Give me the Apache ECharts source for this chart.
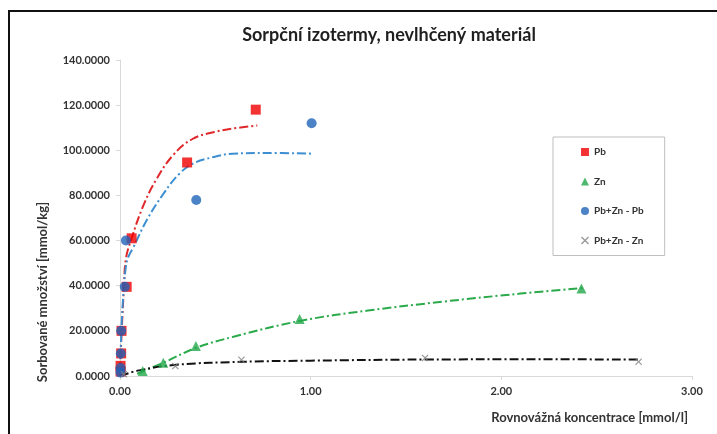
<!DOCTYPE html>
<html>
<head>
<meta charset="utf-8">
<script src="https://cdn.jsdelivr.net/npm/echarts@6/dist/echarts.min.js"></script>
<style>
html,body{margin:0;padding:0;background:#fff;}
#c{width:717px;height:434px;}
</style>
</head>
<body>
<div id="c"></div>
<script>
// Measured points: [concentration mmol/l, sorbed mmol/kg]
var pbPoints = [[0.003,2],[0.003,4.5],[0.006,10],[0.008,20],[0.035,39.5],[0.061,61],[0.352,94.6],[0.712,118]];
var znPoints = [[0.119,2.2],[0.227,5.9],[0.398,13.3],[0.942,25.2],[2.42,38.8]];
var pbznPbPoints = [[0.003,1.5],[0.003,3.5],[0.004,10],[0.006,20],[0.025,39.5],[0.031,60],[0.40,78],[1.005,112]];
var pbznZnPoints = [[0.02,0.8],[0.29,4.4],[0.637,7.2],[1.60,8],[2.72,6.3]];

// Trend lines
var pbTrend = [[0,0],[0.005,12],[0.01,22],[0.02,38],[0.031,52],[0.061,61],[0.12,75],[0.19,87],[0.28,98],[0.38,105],[0.49,108],[0.59,109.6],[0.72,111]];
var pbznPbTrend = [[0,0],[0.005,15],[0.015,33],[0.03,48],[0.045,53],[0.07,57],[0.14,69],[0.23,81],[0.31,89.5],[0.38,94],[0.49,97],[0.59,98.5],[0.77,98.8],[1.01,98.5]];
var znTrend = [[0.09,1],[0.23,6],[0.4,12.5],[0.6,17.5],[0.95,24.5],[1.3,29],[1.7,33],[2.1,36.5],[2.43,39]];
var pbznZnTrend = [[0,0],[0.1,2.5],[0.3,5],[0.64,6.3],[1.0,6.8],[1.6,7.3],[2.2,7.4],[2.72,7.3]];

var seriesNames = ['Pb','Zn','Pb+Zn - Pb','Pb+Zn - Zn'];
var titleText = 'Sorpční izotermy, nevlhčený materiál';
var yAxisName = 'Sorbované množství [mmol/kg]';
var xAxisName = 'Rovnovážná koncentrace [mmol/l]';

var FONT = 'Lato';
var xSym = 'path://M0,1.2L1.2,0L5,3.8L8.8,0L10,1.2L6.2,5L10,8.8L8.8,10L5,6.2L1.2,10L0,8.8L3.8,5Z';
var dashDot = [9,3,2,3];

var chart = echarts.init(document.getElementById('c'), null, {renderer:'canvas'});
function trend(data, color){
  return {type:'line', data:data, smooth:0.4, showSymbol:false, symbol:'none', silent:true,
    lineStyle:{color:color, width:2, type:dashDot}, z:1};
}
chart.setOption({
  animation:false,
  backgroundColor:'#fff',
  title:{text:titleText, left:384, top:21, textAlign:'center',
    textStyle:{fontFamily:FONT, fontSize:18, fontWeight:'bold', color:'#1f1f1f'}},
  grid:{left:120, right:25, top:60, bottom:58, containLabel:false},
  legend:{
    orient:'vertical', left:553, top:137, data:seriesNames,
    padding:[10,21,10,28], itemGap:19.5, itemWidth:8, itemHeight:8,
    borderColor:'#bfbfbf', borderWidth:1,
    textStyle:{fontFamily:FONT, fontSize:10, fontWeight:'bold', color:'#333'}
  },
  xAxis:{type:'value', min:0, max:3, interval:1,
    axisLine:{show:true, lineStyle:{color:'#d9d9d9'}},
    axisTick:{show:true, length:4, lineStyle:{color:'#d9d9d9'}},
    splitLine:{show:false},
    axisLabel:{formatter:function(v){return v.toFixed(2);}, fontFamily:FONT, fontSize:11, fontWeight:'bold', color:'#333', margin:10}
  },
  yAxis:{type:'value', min:0, max:140, interval:20,
    axisLine:{show:true, lineStyle:{color:'#d9d9d9'}},
    axisTick:{show:true, length:4, lineStyle:{color:'#d9d9d9'}},
    splitLine:{show:false},
    axisLabel:{formatter:function(v){return v.toFixed(4);}, fontFamily:FONT, fontSize:11, fontWeight:'bold', color:'#333', margin:10}
  },
  graphic:[
    {type:'rect', shape:{x:9, y:11, width:720, height:440}, style:{fill:'none', stroke:'#111', lineWidth:2}, silent:true},
    {type:'text', x:43, y:292, rotation:Math.PI/2, style:{text:yAxisName, fontFamily:FONT, fontSize:13, fontWeight:'bold', fill:'#333', align:'center', verticalAlign:'middle'}},
    {type:'text', x:688, y:418, style:{text:xAxisName, fontFamily:FONT, fontSize:13, fontWeight:'bold', fill:'#333', align:'right', verticalAlign:'middle'}}
  ],
  series:[
    trend(pbTrend, '#e0282a'),
    trend(pbznPbTrend, '#3d8fd1'),
    trend(znTrend, '#2aaa4a'),
    trend(pbznZnTrend, '#111111'),
    {name:seriesNames[0], type:'scatter', data:pbPoints, symbol:'rect', symbolSize:10, itemStyle:{color:'#f00000'}, z:3},
    {name:seriesNames[1], type:'scatter', data:znPoints, symbol:'triangle', symbolSize:10, itemStyle:{color:'#22a84a'}, z:3},
    {name:seriesNames[2], type:'scatter', data:pbznPbPoints, symbol:'circle', symbolSize:10, itemStyle:{color:'#1f63b8'}, z:4},
    {name:seriesNames[3], type:'scatter', data:pbznZnPoints, symbol:xSym, symbolSize:7, itemStyle:{color:'#7f7f7f'}, z:4}
  ]
});
</script>
</body>
</html>
